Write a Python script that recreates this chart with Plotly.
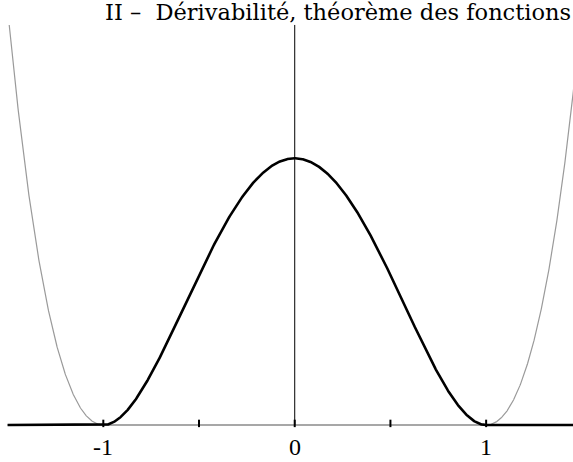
import numpy as np
import plotly.graph_objects as go

# Graph of f(x) = (1 - x^2)^2 on [-1, 1], extended by 0 outside,
# with the polynomial (1 - x^2)^2 shown in grey beyond [-1, 1].
title_text = "II –  Dérivabilité, théorème des fonctions"
tick_values = [-1.0, -0.5, 0.0, 0.5, 1.0, 1.5]
tick_labels = ["-1", "", "0", "", "1", ""]
x_min, x_max = -1.5, 1.5
y_top = 1.5

W, H = 573, 462


def poly(x):
    return (1.0 - x ** 2) ** 2


# black curve: polynomial on [-1, 1], zero elsewhere
xs = np.linspace(x_min, x_max, 1201)
f_black = np.where(np.abs(xs) <= 1.0, poly(xs), 0.0)

# grey continuation outside [-1, 1], clipped at the top of the frame
x_cut = np.sqrt(1.0 + np.sqrt(y_top))
xl = np.linspace(-x_cut, -1.0, 300)
xr = np.linspace(1.0, x_cut, 300)

fig = go.Figure()

# horizontal axis (grey)
fig.add_trace(go.Scatter(x=[x_min, x_max], y=[0, 0], mode="lines",
                         line=dict(color="#8a8a8a", width=1.3),
                         hoverinfo="skip", showlegend=False))
# vertical axis
fig.add_trace(go.Scatter(x=[0, 0], y=[0, y_top], mode="lines",
                         line=dict(color="black", width=1),
                         hoverinfo="skip", showlegend=False))
# grey polynomial branches
for xx in (xl, xr):
    fig.add_trace(go.Scatter(x=xx, y=poly(xx), mode="lines",
                             line=dict(color="#9a9a9a", width=1.2),
                             hoverinfo="skip", showlegend=False))
# black bump function
fig.add_trace(go.Scatter(x=xs, y=f_black, mode="lines",
                         line=dict(color="black", width=2.6),
                         hoverinfo="skip", showlegend=False))

# tick marks
for t in tick_values:
    fig.add_shape(type="line", xref="x", yref="y", x0=t, x1=t,
                  y0=-0.008, y1=0.02, line=dict(color="black", width=2))

# tick labels
for t, lab in zip(tick_values, tick_labels):
    if lab:
        fig.add_annotation(x=t, y=0, xref="x", yref="y", text=lab,
                           showarrow=False, yshift=-22,
                           font=dict(family="Liberation Serif", size=24,
                                     color="black"))

# running heading
fig.add_annotation(x=104 / W, y=1 - 12.5 / H, xref="paper", yref="paper",
                   xanchor="left", yanchor="middle",
                   text=title_text, showarrow=False, borderpad=0,
                   font=dict(family="DejaVu Serif", size=22.5,
                             color="black"))

fig.update_layout(
    width=W, height=H,
    margin=dict(l=0, r=0, t=0, b=0),
    paper_bgcolor="white", plot_bgcolor="white",
    xaxis=dict(range=[-1.5397, 1.4538], visible=False, fixedrange=True),
    yaxis=dict(range=[-0.1387, 1.5936], visible=False, fixedrange=True),
)

fig.write_html("out.html")
